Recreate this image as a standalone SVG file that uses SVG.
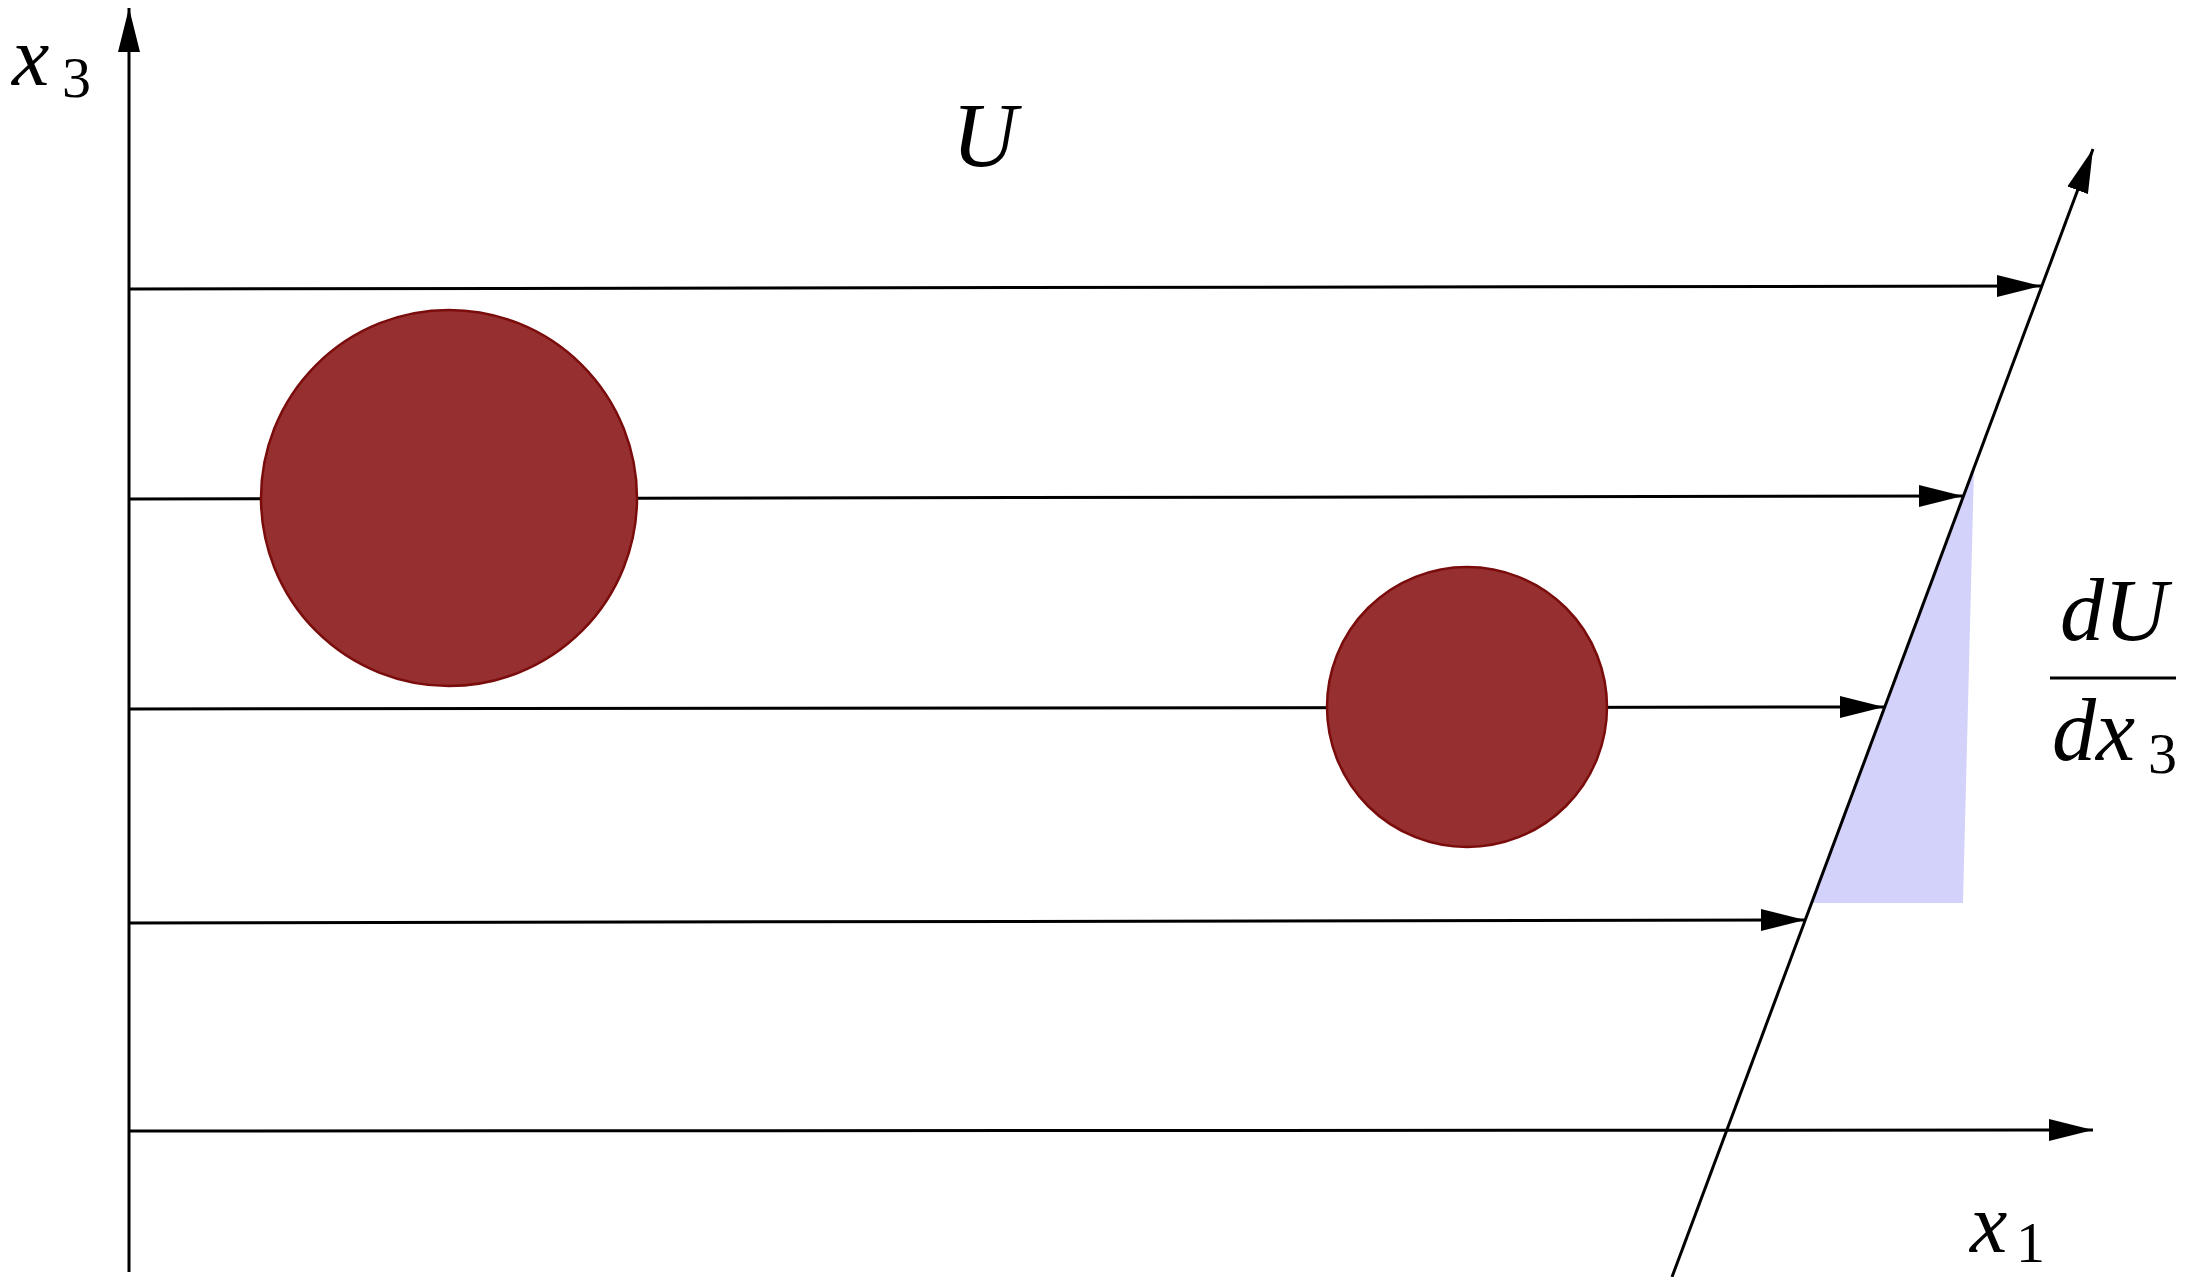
<svg xmlns="http://www.w3.org/2000/svg" width="2186" height="1277" viewBox="0 0 2186 1277">
<style>
.ax{stroke:#000;stroke-width:3;fill:none}
.ln{stroke:#000;stroke-width:3;fill:none}
.ball{fill:#952f30;stroke:#7a0c0c;stroke-width:2.5}
.m{font-family:"Liberation Serif","DejaVu Serif",serif;font-style:italic;fill:#000}
.n{font-family:"Liberation Serif","DejaVu Serif",serif;font-style:normal;fill:#000}
</style>
<defs>
<marker id="ah" markerUnits="userSpaceOnUse" markerWidth="46" markerHeight="24" viewBox="0 0 46 24" refX="44" refY="12" orient="auto">
<path d="M0,1 L44,12 L0,23 Z" fill="#000"/>
</marker>
</defs>
<rect width="2186" height="1277" fill="#fff"/>
<g id="shear-region">
<polygon points="1974,467 1963,903 1810,903" fill="#d2d2fa"/>
</g>
<g id="connectors">
<line class="ax" x1="129" y1="1272" x2="129" y2="8" marker-end="url(#ah)"/>
<line class="ax" x1="129" y1="1131" x2="2093" y2="1130" marker-end="url(#ah)"/>
<line class="ax" x1="1672" y1="1277" x2="2093" y2="149" marker-end="url(#ah)"/>
<line class="ln" x1="129" y1="289" x2="2041" y2="286" marker-end="url(#ah)"/>
<line class="ln" x1="129" y1="499" x2="1963" y2="496" marker-end="url(#ah)"/>
<line class="ln" x1="129" y1="709" x2="1884" y2="707" marker-end="url(#ah)"/>
<line class="ln" x1="129" y1="923" x2="1805" y2="920" marker-end="url(#ah)"/>
</g>
<g id="particle-large">
<circle class="ball" cx="449" cy="498" r="188"/>
</g>
<g id="particle-small">
<circle class="ball" cx="1467" cy="707" r="140"/>
</g>
<g id="label-x3">
<text class="m" x="12" y="85" font-size="84">x</text>
<text class="n" x="62" y="97" font-size="58">3</text>
</g>
<g id="label-U">
<text class="m" x="952" y="166" font-size="90">U</text>
</g>
<g id="label-dUdx3">
<text class="m" x="2060" y="640" font-size="88">dU</text>
<line x1="2050" y1="678" x2="2176" y2="678" stroke="#000" stroke-width="3"/>
<text class="m" x="2052" y="760" font-size="88">dx</text>
<text class="n" x="2148" y="773" font-size="58">3</text>
</g>
<g id="label-x1">
<text class="m" x="1970" y="1252" font-size="84">x</text>
<text class="n" x="2016" y="1262" font-size="58">1</text>
</g>
</svg>
